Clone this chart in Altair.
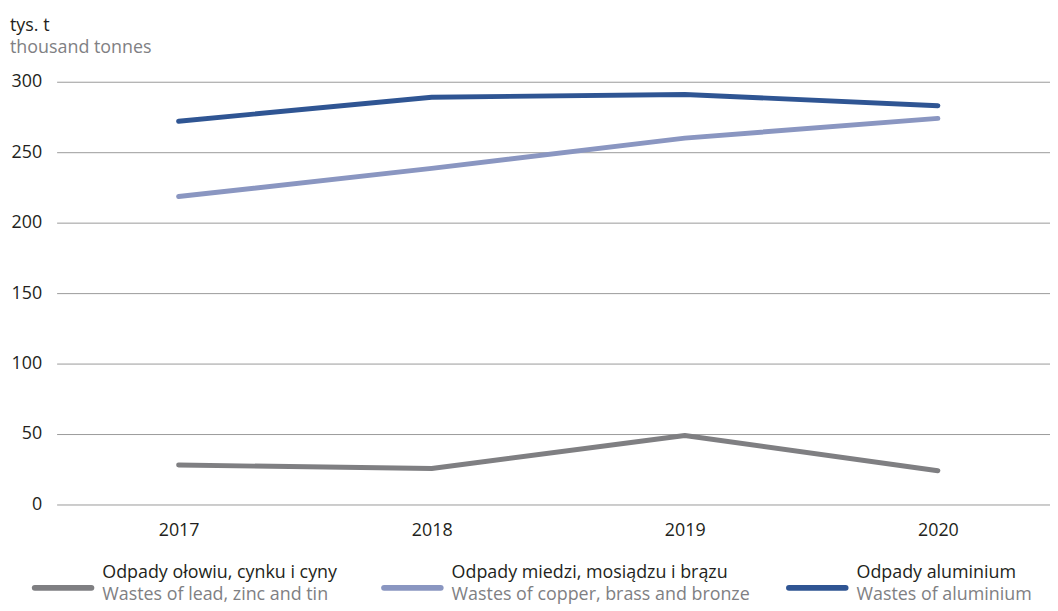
import altair as alt
import pandas as pd

years = [2017, 2018, 2019, 2020]
lead = [28, 25.5, 49, 24]
copper = [218.5, 238.5, 260, 274]
aluminium = [272, 289, 291, 283]

series_keys = ["lead", "copper", "aluminium"]
labels_pl = ["Odpady ołowiu, cynku i cyny", "Odpady miedzi, mosiądzu i brązu", "Odpady aluminium"]
labels_en = ["Wastes of lead, zinc and tin", "Wastes of copper, brass and bronze", "Wastes of aluminium"]
colors = ["#7f7f82", "#8a96c1", "#2f5593"]
unit_labels = ["tys. t", "thousand tonnes"]
y_ticks = [0, 50, 100, 150, 200, 250, 300]

FONT = "Open Sans"
DARK = "#231f20"
GREY = "#808083"
TXT = 18
AX = 18

rows = []
for key, vals in zip(series_keys, [lead, copper, aluminium]):
    for yr, v in zip(years, vals):
        rows.append({"series": key, "year": yr, "value": v})
df = pd.DataFrame(rows)

leg = pd.DataFrame({"series": series_keys, "idx": list(range(len(series_keys))),
                    "pl": labels_pl, "en": labels_en})

color = alt.Color("series:N", scale=alt.Scale(domain=series_keys, range=colors), legend=None)

lines = alt.Chart(df).mark_line(strokeWidth=5, strokeCap="round", strokeJoin="round").encode(
    x=alt.X("year:Q",
            scale=alt.Scale(domain=[2016.518, 2020.443], nice=False, zero=False),
            axis=alt.Axis(values=years, format="d", title=None, grid=False, domain=False,
                          ticks=False, labelPadding=17, labelFontSize=AX, labelFont=FONT,
                          labelColor=DARK)),
    y=alt.Y("value:Q",
            scale=alt.Scale(domain=[0, 300], nice=False),
            axis=alt.Axis(values=y_ticks, title=None, grid=True, gridColor="#9a9a9a",
                          gridWidth=1, domain=False, ticks=False, labelPadding=15,
                          labelFontSize=AX, labelFont=FONT, labelColor=DARK)),
    color=color,
)

leg_x = alt.X("idx:Q", scale=alt.Scale(domain=[0, 1, 2], range=[-22, 330, 738]), axis=None)

leg_rule = alt.Chart(leg).mark_rule(strokeWidth=6, strokeCap="round", x2Offset=57).encode(
    x=leg_x, x2="idx:Q", y=alt.value(510), color=color)

leg_pl = alt.Chart(leg).mark_text(align="left", baseline="alphabetic", dx=68, fontSize=TXT,
                                  font=FONT, color=DARK).encode(
    x=leg_x, y=alt.value(500), text="pl:N")

leg_en = alt.Chart(leg).mark_text(align="left", baseline="alphabetic", dx=68, fontSize=TXT,
                                  font=FONT, color=GREY).encode(
    x=leg_x, y=alt.value(522), text="en:N")

unit1 = alt.Chart(pd.DataFrame({"t": [unit_labels[0]]})).mark_text(
    align="left", baseline="alphabetic", fontSize=TXT, font=FONT, color=DARK).encode(
    x=alt.value(-47), y=alt.value(-51), text="t:N")
unit2 = alt.Chart(pd.DataFrame({"t": [unit_labels[1]]})).mark_text(
    align="left", baseline="alphabetic", fontSize=TXT, font=FONT, color=GREY).encode(
    x=alt.value(-47), y=alt.value(-29), text="t:N")

chart = alt.layer(lines, leg_rule, leg_pl, leg_en, unit1, unit2).resolve_scale(
    x="independent"
).properties(
    width=1001, height=426,
    autosize=alt.AutoSizeParams(type="none"),
    padding={"left": 49, "top": 72, "right": 0, "bottom": 103},
).configure_view(stroke=None)

chart.save("out.html", embed_options={"renderer": "svg", "actions": False})
